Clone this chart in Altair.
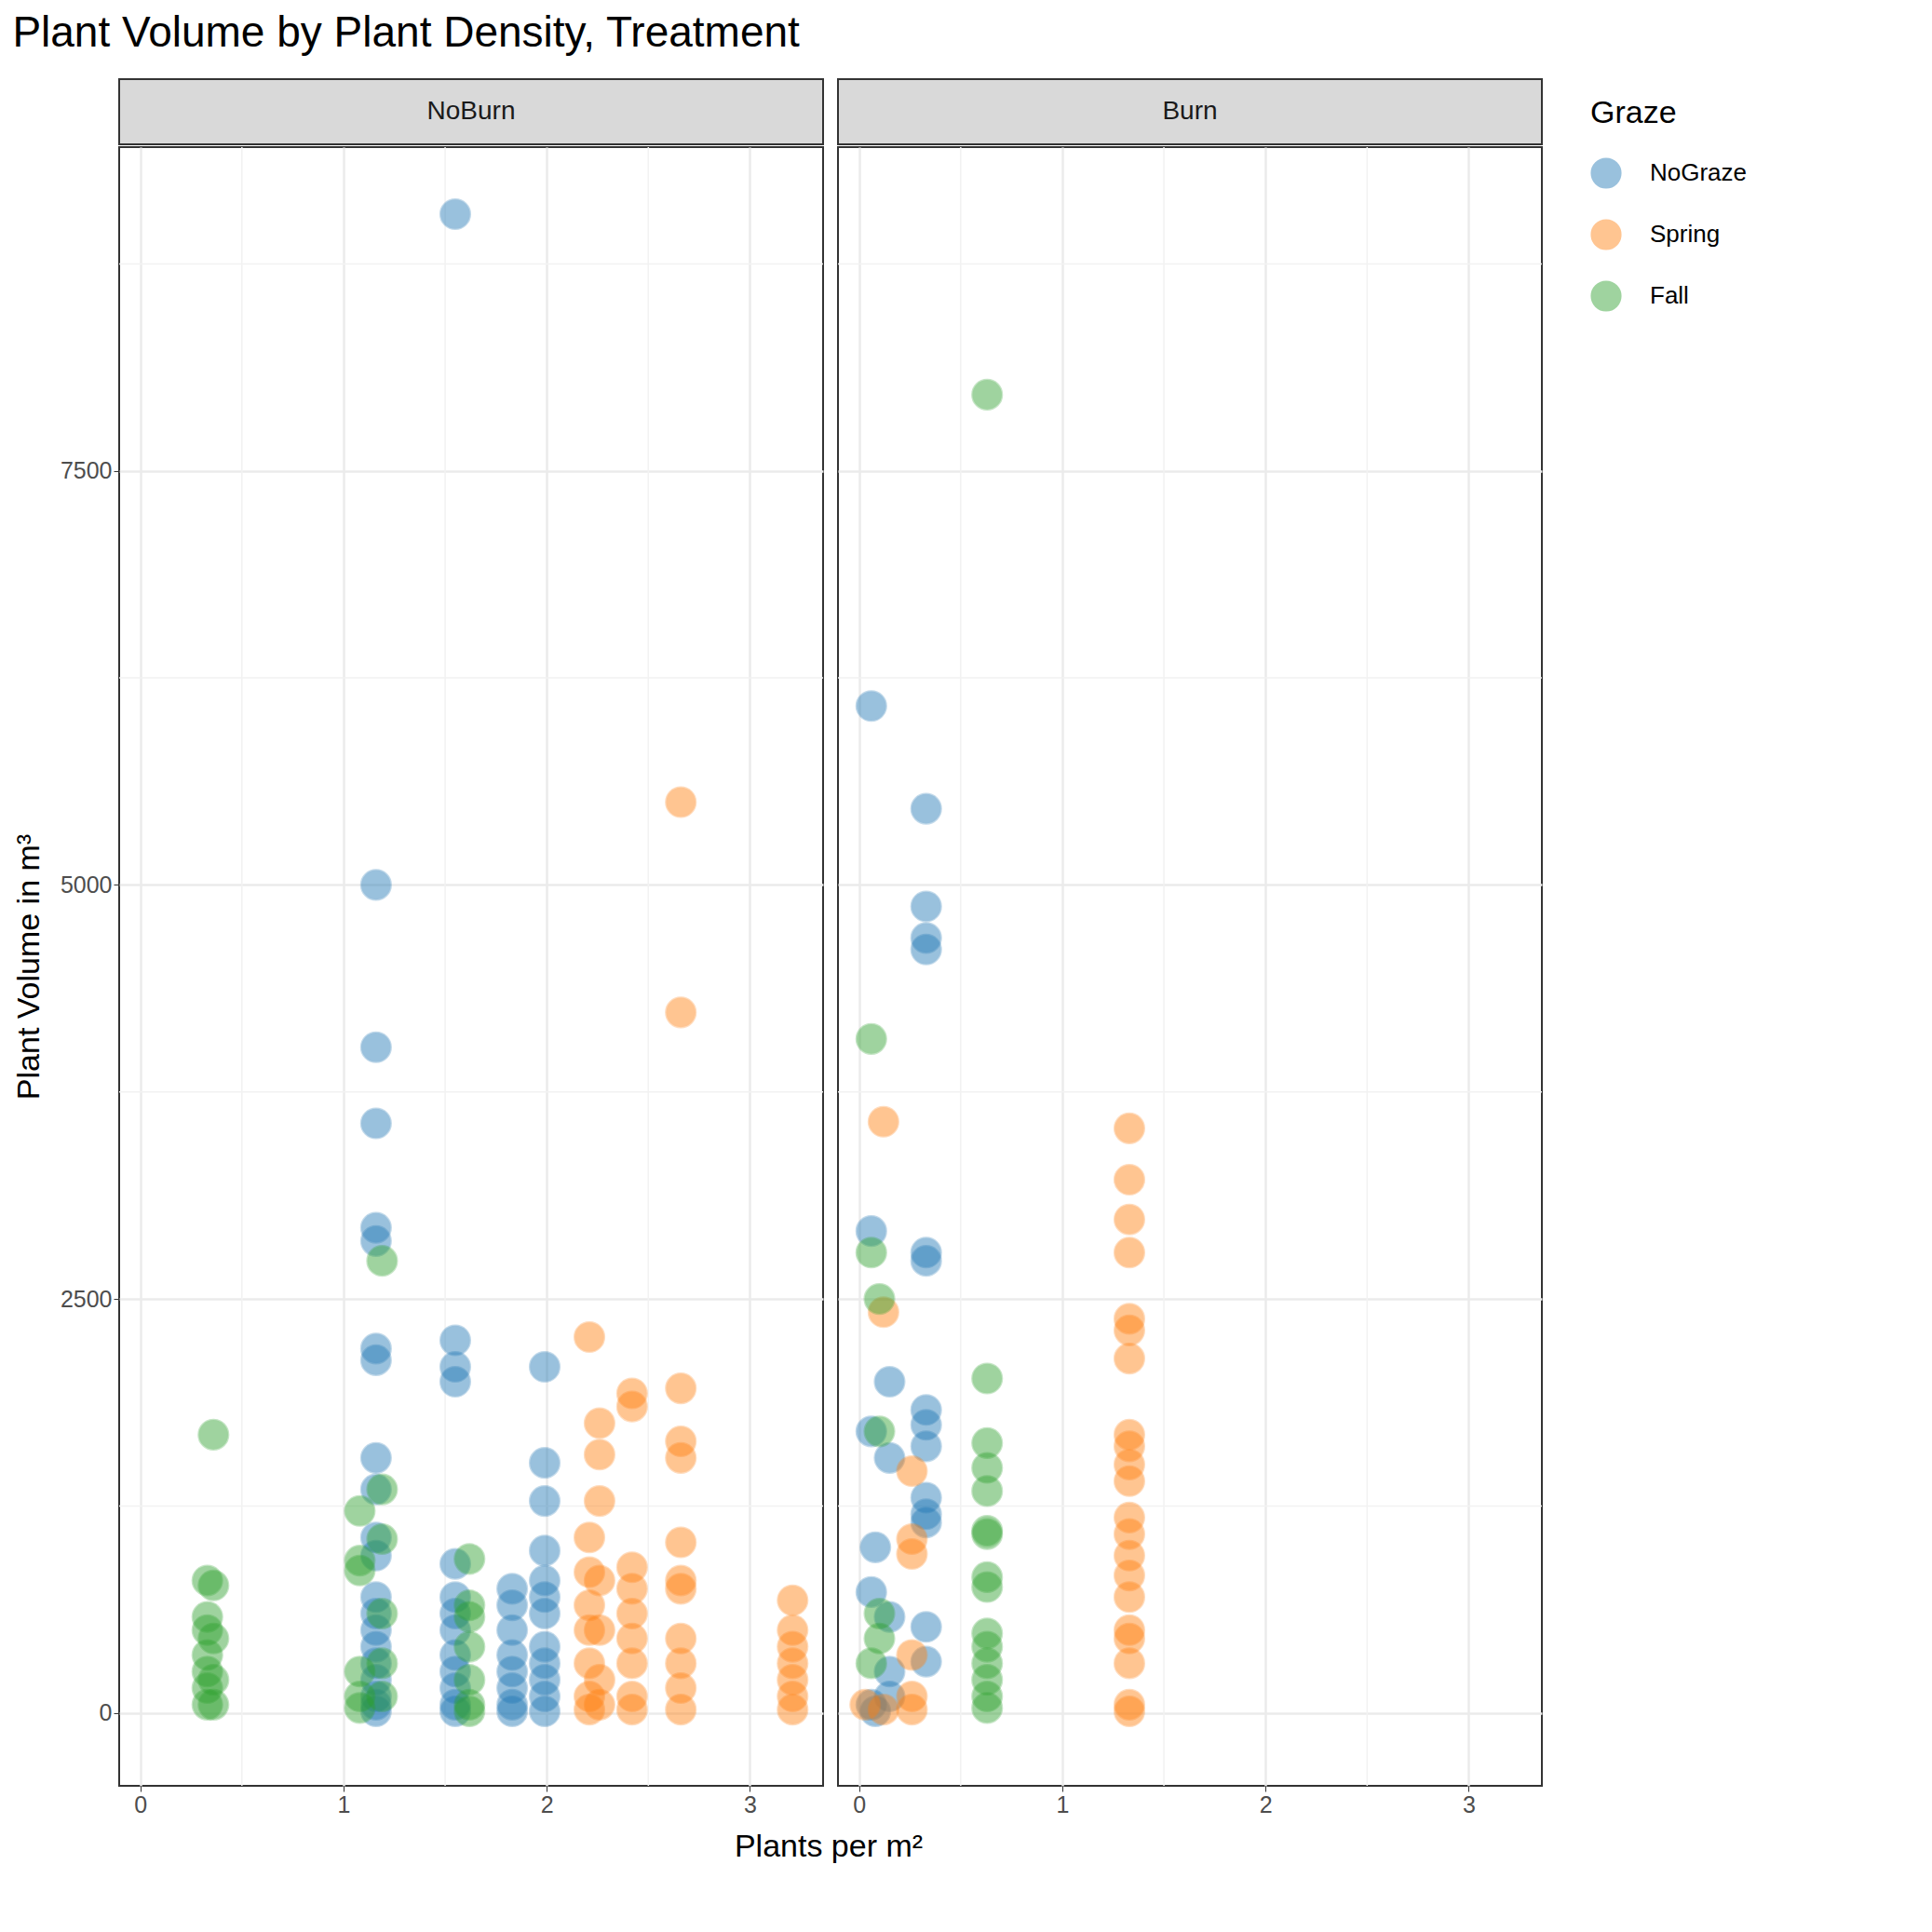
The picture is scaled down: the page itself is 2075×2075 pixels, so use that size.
import altair as alt
import pandas as pd

graze_order = ["NoGraze", "Spring", "Fall"]
graze_colors = ["#1f77b4", "#ff7f0e", "#2ca02c"]

# (density, volumes) per Burn / Graze group
noburn_nograze = [
    (1.16, [5000, 4020, 3560, 2930, 2850, 2200, 2130, 1540, 1350, 1060, 950, 700, 600, 500, 400, 300, 200, 100, 50, 10]),
    (1.55, [9050, 2250, 2090, 2000, 900, 700, 600, 500, 350, 250, 150, 50, 10]),
    (1.83, [750, 650, 500, 350, 250, 150, 50, 10]),
    (1.99, [2090, 1510, 1280, 980, 800, 700, 600, 400, 300, 200, 100, 10]),
]
noburn_spring = [
    (2.21, [2270, 1060, 850, 650, 500, 300, 100, 20]),
    (2.26, [1750, 1560, 1280, 800, 500, 200, 50]),
    (2.42, [1930, 1850, 880, 750, 600, 450, 300, 100, 20]),
    (2.66, [5500, 4230, 1960, 1640, 1540, 1030, 800, 750, 450, 300, 150, 20]),
    (3.21, [680, 500, 400, 300, 200, 100, 20]),
]
noburn_fall = [
    (0.33, [800, 580, 500, 350, 250, 150, 50]),
    (0.36, [1680, 770, 450, 200, 50]),
    (1.08, [1220, 920, 860, 250, 100, 30]),
    (1.19, [2730, 1350, 1050, 600, 300, 100]),
    (1.62, [930, 650, 580, 400, 200, 50, 10]),
]
burn_nograze = [
    (0.06, [6080, 2910, 1700, 730, 50]),
    (0.08, [1000, 10]),
    (0.15, [2000, 1540, 580, 250, 100]),
    (0.33, [5460, 4870, 4680, 4610, 2780, 2730, 1830, 1740, 1610, 1300, 1200, 1150, 520, 310]),
]
burn_spring = [
    (0.03, [50]),
    (0.12, [3570, 2420, 20]),
    (0.26, [1460, 1050, 960, 350, 100, 20]),
    (1.33, [3530, 3220, 2980, 2780, 2380, 2310, 2140, 1680, 1610, 1500, 1400, 1180, 1080, 950, 830, 700, 500, 450, 300, 50, 10]),
]
burn_fall = [
    (0.06, [4070, 2780, 300]),
    (0.10, [2500, 1700, 600, 450]),
    (0.63, [7960, 2020, 1630, 1480, 1340, 1100, 1080, 820, 760, 480, 400, 300, 200, 100, 30]),
]

groups = {
    ("NoBurn", "NoGraze"): noburn_nograze, ("NoBurn", "Spring"): noburn_spring,
    ("NoBurn", "Fall"): noburn_fall, ("Burn", "NoGraze"): burn_nograze,
    ("Burn", "Spring"): burn_spring, ("Burn", "Fall"): burn_fall,
}
rows = []
for (burn, graze), cols in groups.items():
    for x, ys in cols:
        for y in ys:
            rows.append({"Burn": burn, "Graze": graze, "density": x, "volume": y})
df = pd.DataFrame(rows)

minor_x = pd.DataFrame({"v": [0.5, 1.5, 2.5]})
minor_y = pd.DataFrame({"v": [1250, 3750, 6250, 8750]})

W, H, SH = 756, 1760, 70
xs = alt.Scale(domain=[-0.104, 3.36], nice=False, zero=False)
ys = alt.Scale(domain=[-440, 9455], nice=False, zero=False)
FONT = "Liberation Sans"
SYM = 1000


def panel(burn, left):
    yaxis = alt.Axis(values=[0, 2500, 5000, 7500], format="d",
                     title="Plant Volume in m³" if left else None,
                     labels=left, ticks=left, gridColor="#ebebeb", gridWidth=2.5,
                     labelFontSize=25, titleFontSize=34, titleFontWeight="normal",
                     labelColor="#4d4d4d", titleColor="black", domain=False,
                     tickColor="#333", tickSize=6, titlePadding=16)
    xaxis = alt.Axis(values=[0, 1, 2, 3], title=None, gridColor="#ebebeb", gridWidth=2.5,
                     labelFontSize=25, labelColor="#4d4d4d", domain=False,
                     tickColor="#333", tickSize=6)
    gx = alt.Chart(minor_x).mark_rule(color="#f2f2f2", strokeWidth=1.5).encode(x=alt.X("v:Q", scale=xs, axis=xaxis))
    gy = alt.Chart(minor_y).mark_rule(color="#f2f2f2", strokeWidth=1.5).encode(y=alt.Y("v:Q", scale=ys, axis=yaxis))
    pts = alt.Chart(df[df.Burn == burn]).mark_circle(size=SYM, opacity=0.45, strokeWidth=2.5, strokeOpacity=0.6).encode(
        x=alt.X("density:Q", scale=xs, axis=xaxis),
        y=alt.Y("volume:Q", scale=ys, axis=yaxis),
        color=alt.Color("Graze:N", sort=graze_order,
                        scale=alt.Scale(domain=graze_order, range=graze_colors),
                        legend=alt.Legend(title="Graze", titleFontSize=34, titleFontWeight="normal",
                                          titleColor="black", labelFontSize=26, symbolSize=SYM,
                                          symbolOpacity=0.45, rowPadding=28, titlePadding=30,
                                          labelOffset=30, padding=20, offset=30)),
        stroke=alt.Stroke("Graze:N", sort=graze_order,
                          scale=alt.Scale(domain=graze_order, range=graze_colors), legend=None),
    )
    plot = (gx + gy + pts).properties(width=W, height=H)
    strip_df = pd.DataFrame({"t": [burn]})
    strip = alt.layer(
        alt.Chart(strip_df).mark_rect(fill="#d9d9d9", stroke="#333", strokeWidth=2).encode(
            x=alt.value(0), x2=alt.value(W), y=alt.value(0), y2=alt.value(SH)),
        alt.Chart(strip_df).mark_text(fontSize=28, color="#1a1a1a", font=FONT).encode(
            x=alt.value(W / 2), y=alt.value(SH / 2), text="t:N"),
    ).properties(width=W, height=SH, view=alt.ViewConfig(stroke=None))
    return alt.vconcat(strip, plot, spacing=0)


xlabel = alt.Chart(pd.DataFrame({"t": ["Plants per m²"]})).mark_text(
    fontSize=34, font=FONT, color="black").encode(
    x=alt.value(W + 6), y=alt.value(22), text="t:N").properties(
    width=2 * W + 12, height=40, view=alt.ViewConfig(stroke=None))

chart = alt.vconcat(
    alt.hconcat(panel("NoBurn", True), panel("Burn", False), spacing=12),
    xlabel, spacing=10,
).properties(
    title=alt.TitleParams("Plant Volume by Plant Density, Treatment", fontSize=46,
                          fontWeight="normal", anchor="start", offset=24)
).configure(font=FONT).configure_view(stroke="#333", strokeWidth=2)

chart.save("out.html", embed_options={"renderer": "svg", "actions": False})
